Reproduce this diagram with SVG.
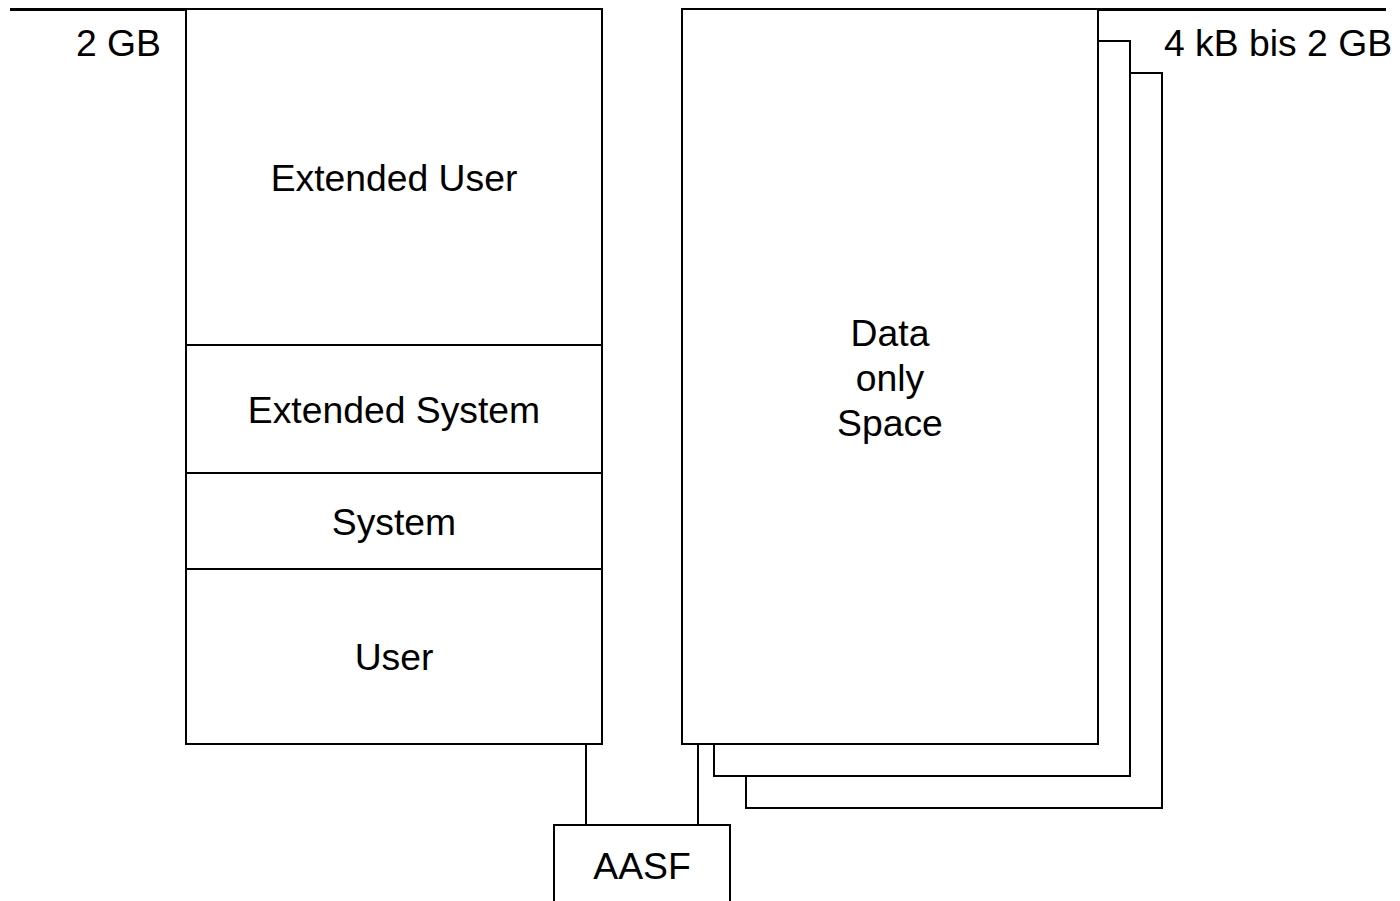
<svg xmlns="http://www.w3.org/2000/svg" width="1400" height="901" viewBox="0 0 1400 901">
<style>
.b{fill:#fff;stroke:#000;stroke-width:2}
.l{stroke:#000;stroke-width:2;fill:none}
.t{stroke:#000;stroke-width:3;fill:none}
.x{font-family:"Liberation Sans",Arial,sans-serif;font-size:37.3px;fill:#000;text-anchor:middle}
</style>
<rect width="1400" height="901" fill="#fff"/>
<g id="scale-lines">
<line class="t" x1="10" y1="9.5" x2="186" y2="9.5"/>
<line class="t" x1="1098" y1="9.5" x2="1386" y2="9.5"/>
<text class="x" x="161" y="56" style="text-anchor:end">2 GB</text>
<text class="x" x="1164" y="56" style="text-anchor:start">4 kB bis 2 GB</text>
</g>
<g id="address-space">
<rect class="b" x="186" y="9" width="416" height="735"/>
<line class="l" x1="186" y1="345" x2="602" y2="345"/>
<line class="l" x1="186" y1="473" x2="602" y2="473"/>
<line class="l" x1="186" y1="569" x2="602" y2="569"/>
<text class="x" x="394" y="191">Extended User</text>
<text class="x" x="394" y="423">Extended System</text>
<text class="x" x="394" y="535">System</text>
<text class="x" x="394" y="670">User</text>
</g>
<g id="data-spaces">
<rect class="b" x="746" y="73" width="416" height="735"/>
<rect class="b" x="714" y="41" width="416" height="735"/>
<rect class="b" x="682" y="9" width="416" height="735"/>
<text class="x" x="890" y="346">Data</text>
<text class="x" x="890" y="391">only</text>
<text class="x" x="890" y="436">Space</text>
</g>
<g id="connectors">
<line class="l" x1="586" y1="744" x2="586" y2="825"/>
<line class="l" x1="698" y1="744" x2="698" y2="825"/>
</g>
<g id="aasf">
<rect class="b" x="554" y="825" width="176" height="90"/>
<text class="x" x="642" y="879">AASF</text>
</g>
</svg>
